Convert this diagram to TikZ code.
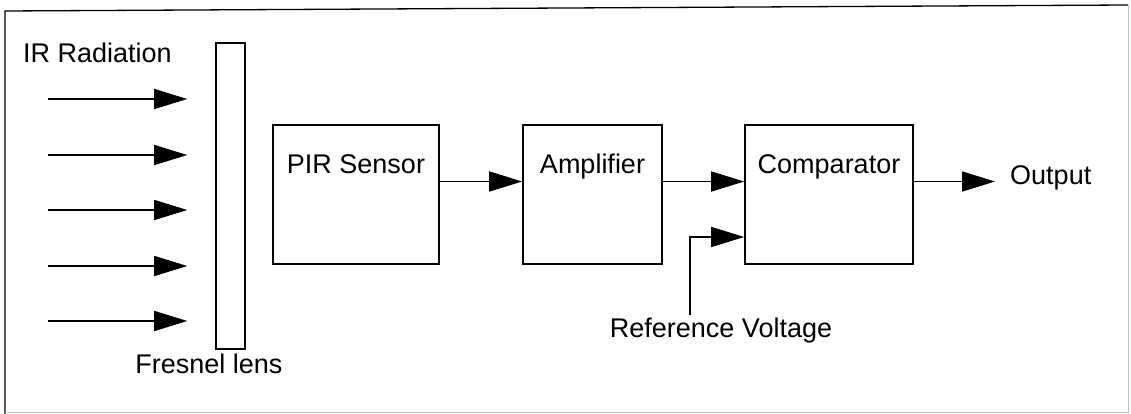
\documentclass[tikz,border=0pt]{standalone}
\usepackage{fontspec}
\setmainfont{Liberation Sans}
\usetikzlibrary{arrows.meta}

\begin{document}
\begin{tikzpicture}[x=1pt,y=-1pt,>={Triangle[length=33pt,width=20pt]},
    font=\fontsize{27}{31}\selectfont,
    blk/.style={draw,line width=1.6pt,inner sep=0pt,minimum height=139pt},
    sig/.style={->,line width=1.6pt},
    ttl/.style={anchor=north,yshift=-30pt,inner sep=0pt}]
        \def\ymid{194.5}
        \def\yin{13pt}

        \useasboundingbox (0,0) rectangle (1131,414);
        \draw[line width=1.3pt] (5,414) -- (5,11) -- (1128,5);
        \draw[black!25] (1128,5) -- (1128,412) -- (5,412);

        \node[draw,line width=1.6pt,inner sep=0pt,minimum width=29pt,
            minimum height=306pt] (lens) at (230.5,196) {};
        \node[anchor=base west,inner sep=0pt] (irtext) at (23,63) {IR Radiation};
        \node[anchor=base,inner sep=0pt] (lenstext) at (209,373) {Fresnel lens};

        \foreach \y in {99,155,210,266,321}
        {
            \draw[sig,shorten >=28pt] (48,\y) -- (lens.west |- 48,\y);
        }

        \node[blk,minimum width=166pt,label={[ttl]north:PIR Sensor}] (pir) at (356,\ymid) {};
        \node[blk,minimum width=139pt,label={[ttl]north:Amplifier}] (amp) at (592.5,\ymid) {};
        \node[blk,minimum width=168pt,label={[ttl]north:Comparator}] (comp) at (829,\ymid) {};
        \node[anchor=base west,inner sep=0pt] (out) at (1010,185) {Output};
        \node[anchor=base,inner sep=0pt] (reftext) at (721,337) {Reference Voltage};
        \coordinate (refturn) at (690,237);

        \draw[sig] ([yshift=\yin]pir.east) -- ([yshift=\yin]amp.west);
        \draw[sig] ([yshift=\yin]amp.east) -- ([yshift=\yin]comp.west);
        \draw[sig,shorten >=15pt] ([yshift=\yin]comp.east) -- ([yshift=\yin]comp.east -| out.west);
        \draw[sig] ([yshift=2pt]reftext.north -| refturn) -- (refturn) -- (refturn -| comp.west);
    \end{tikzpicture}
\end{document}
